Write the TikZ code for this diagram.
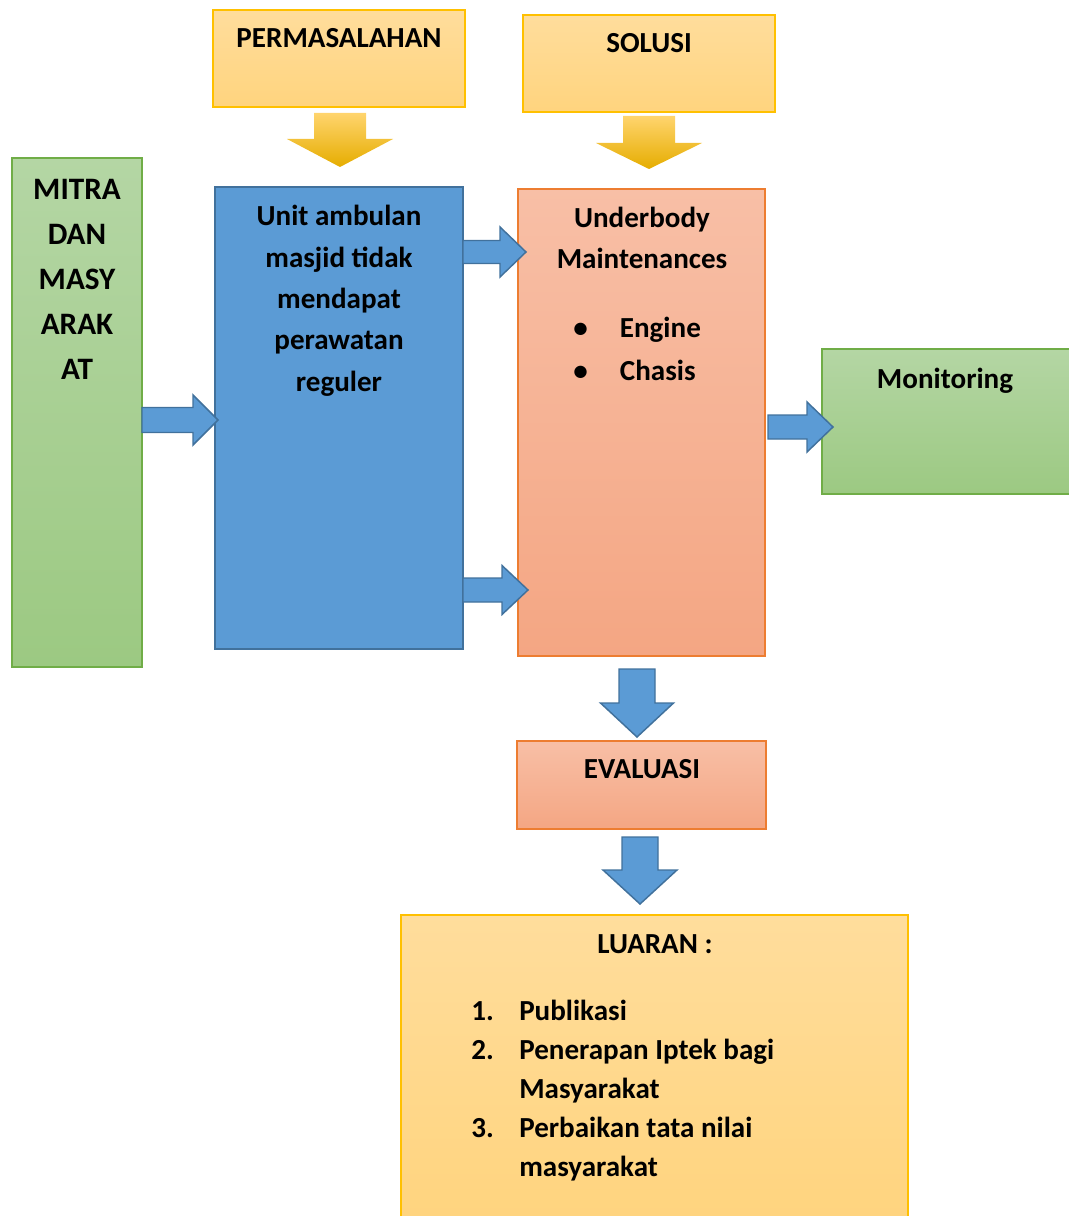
\documentclass[tikz,border=0pt]{standalone}
\usepackage{fontspec}
\setmainfont{Carlito}
\usetikzlibrary{calc}

\definecolor{gold}{HTML}{FFC000}
\definecolor{goldtop}{HTML}{FFDD9C}
\definecolor{goldbot}{HTML}{FFD47E}
\definecolor{leaf}{HTML}{70AD47}
\definecolor{leaftop}{HTML}{B4D6A4}
\definecolor{leafbot}{HTML}{9CC982}
\definecolor{rust}{HTML}{ED7D31}
\definecolor{rusttop}{HTML}{F8BFA6}
\definecolor{rustbot}{HTML}{F4A683}
\definecolor{sky}{HTML}{5B9BD5}
\definecolor{skyline}{HTML}{41719C}

\tikzset{
  box/.style={rectangle, inner sep=0pt, outer sep=0pt, line width=1.1pt},
  yellowbox/.style={box, draw=gold, top color=goldtop, bottom color=goldbot},
  greenbox/.style={box, draw=leaf, top color=leaftop, bottom color=leafbot},
  orangebox/.style={box, draw=rust, top color=rusttop, bottom color=rustbot},
  bluebox/.style={box, draw=skyline, fill=sky, line width=1.9pt},
  txt/.style={inner sep=0pt, align=center, font=\fontsize{21.8}{31}\selectfont\bfseries},
  bluearr/.style={draw=skyline, fill=sky, line width=1.1pt, line join=miter},
  goldarr/.style={top color=goldtop!70!gold, middle color=gold, bottom color=gold!90!black, draw=none},
  blkR/.style n args={3}{to path={
    let \p1=(\tikztostart), \p2=(\tikztotarget) in
    ($(\x1,\y1)+(0,-#1)$) -- ($(\x2,\y1)+(-#3,-#1)$) -- ($(\x2,\y1)+(-#3,-#2)$)
    -- (\x2,\y1) -- ($(\x2,\y1)+(-#3,#2)$) -- ($(\x2,\y1)+(-#3,#1)$)
    -- ($(\x1,\y1)+(0,#1)$) -- cycle}},
  blkD/.style n args={3}{to path={
    let \p1=(\tikztostart), \p2=(\tikztotarget) in
    ($(\x1,\y1)+(-#1,0)$) -- ($(\x1,\y2)+(-#1,-#3)$) -- ($(\x1,\y2)+(-#2,-#3)$)
    -- (\x1,\y2) -- ($(\x1,\y2)+(#2,-#3)$) -- ($(\x1,\y2)+(#1,-#3)$)
    -- ($(\x1,\y1)+(#1,0)$) -- cycle}},
}

\begin{document}
\begin{tikzpicture}[x=0.75pt, y=-0.75pt]
    \useasboundingbox (0,0) rectangle (1069,1216);
    % boxes
    \node[yellowbox, minimum width=189pt, minimum height=72.75pt] (perm) at (339,58.5) {};
    \node[yellowbox, minimum width=189pt, minimum height=72.75pt] (solusi) at (649,63.5) {};
    \node[greenbox, minimum width=97.5pt, minimum height=381.75pt] (mitra) at (77,412.5) {};
    \node[bluebox, minimum width=186pt, minimum height=346.5pt] (unit) at (339,418) {};
    \node[orangebox, minimum width=185.25pt, minimum height=350.25pt] (ub) at (641.5,422.5) {};
    \node[greenbox, minimum width=189.75pt, minimum height=108.75pt] (monitor) at (948.5,421.5) {};
    \node[orangebox, minimum width=186.75pt, minimum height=66pt] (eval) at (641.5,785) {};
    \node[yellowbox, minimum width=380.25pt, minimum height=232.5pt] (luaran) at (654.5,1070) {};

    % texts (base = last line)
    \node[txt, anchor=base] (permtext) at (339,48) {PERMASALAHAN};
    \node[txt, anchor=base] (solusitext) at (649,53) {SOLUSI};
    \node[txt, anchor=base, font=\fontsize{23.4}{33.6}\selectfont\bfseries] (mitratext) at (77,379)
        {MITRA\\DAN\\MASY\\ARAK\\AT};
    \node[txt, anchor=base] (unittext) at (339,391)
        {Unit ambulan\\masjid tidak\\mendapat\\perawatan\\reguler};
    \node[txt, anchor=base, font=\fontsize{21.8}{30.75}\selectfont\bfseries] (ubtext) at (642,268)
        {Underbody\\Maintenances};
    \node[txt, anchor=base west, align=left, font=\fontsize{21.8}{32.25}\selectfont\bfseries] (ublist) at (573,380)
        {\makebox[35pt][l]{\textbullet}Engine\\\makebox[35pt][l]{\textbullet}Chasis};
    \node[txt, anchor=base] (montext) at (945,388) {Monitoring};
    \node[txt, anchor=base] (evaltext) at (642,778) {EVALUASI};
    \node[txt, anchor=base] (luarantext) at (655,953) {LUARAN :};
    \node[txt, anchor=base west, align=left, font=\fontsize{21.8}{29.25}\selectfont\bfseries] (luaranlist) at (471,1176)
        {\makebox[36pt][l]{1.}Publikasi\\
         \makebox[36pt][l]{2.}Penerapan Iptek bagi\\
         \hspace*{36pt}Masyarakat\\
         \makebox[36pt][l]{3.}Perbaikan tata nilai\\
         \hspace*{36pt}masyarakat};

    % arrows
    \draw[goldarr, blkD={26}{53}{28}] ($(perm.south)+(1,6)$) to ($(unit.north)+(1,-20)$);
    \draw[goldarr, blkD={26}{53}{26}] ($(solusi.south)+(0,4)$) to ($(ub.north)+(0,-20)$);
    \draw[bluearr, blkR={12.5}{25}{25}] ($(mitra.east)+(0,7.5)$) to ($(unit.west)+(3,0)$);
    \draw[bluearr, blkR={11.5}{25}{26}] ($(unit.east)+(0,-166)$) to ($(ub.west)+(8,0)$);
    \draw[bluearr, blkR={12}{24.5}{26}] ($(unit.east)+(0,172)$) to ($(ub.west)+(10,0)$);
    \draw[bluearr, blkR={12}{25}{26}] ($(ub.east)+(3,4.5)$) to ($(monitor.west)+(11,0)$);
    \draw[bluearr, blkD={18}{36.5}{34}] ($(ub.south)+(-4.5,13)$) to ($(eval.north)+(-4.5,-4)$);
    \draw[bluearr, blkD={18}{37}{34}] ($(eval.south)+(-1.5,8)$) to ($(luaran.north)+(-1.5,-11)$);
\end{tikzpicture}
\end{document}
